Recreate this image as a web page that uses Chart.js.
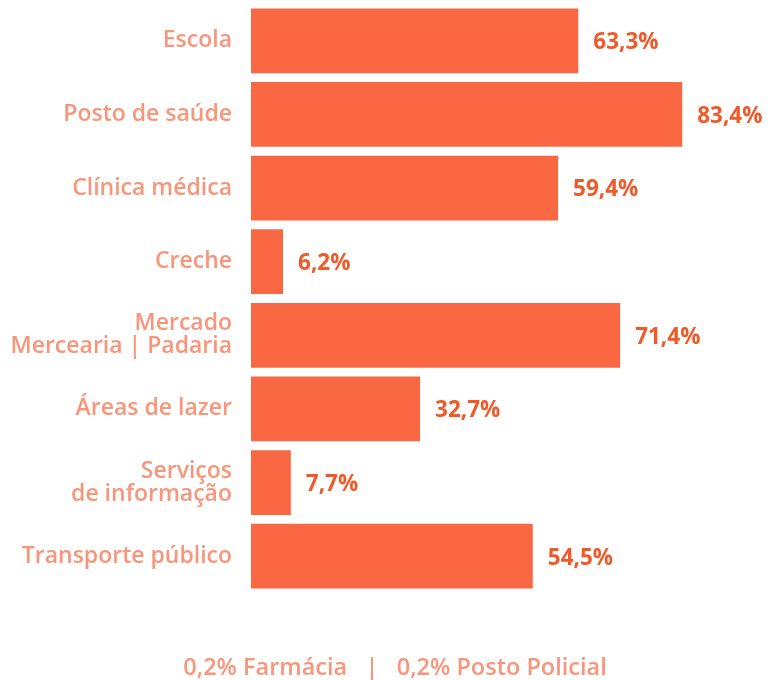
<!DOCTYPE html>
<html>
<head>
<meta charset="utf-8">
<script src="https://cdn.jsdelivr.net/npm/chart.js@4/dist/chart.umd.min.js"></script>
<style>
  html, body { margin: 0; padding: 0; background: #ffffff; }
  #wrap { width: 768px; height: 680px; position: relative; }
</style>
</head>
<body>
<div id="wrap"><canvas id="c" width="768" height="680"></canvas></div>
<script>
const categories = [
  'Escola',
  'Posto de saúde',
  'Clínica médica',
  'Creche',
  ['Mercado', 'Mercearia | Padaria'],
  'Áreas de lazer',
  ['Serviços', 'de informação'],
  'Transporte público'
];
const values = [63.3, 83.4, 59.4, 6.2, 71.4, 32.7, 7.7, 54.5];
const valueLabels = ['63,3%', '83,4%', '59,4%', '6,2%', '71,4%', '32,7%', '7,7%', '54,5%'];
const footerText = '0,2% Farmácia   |   0,2% Posto Policial';

const BAR = '#F96842';
const LABEL = '#F8957A';
const VALUE = '#F05A28';
const FONT = "'Open Sans', 'DejaVu Sans', sans-serif";

const valuePlugin = {
  id: 'valueLabels',
  afterDatasetsDraw(chart) {
    const ctx = chart.ctx;
    const meta = chart.getDatasetMeta(0);
    ctx.save();
    ctx.fillStyle = VALUE;
    ctx.font = "700 22.5px " + FONT;
    ctx.textAlign = 'left';
    ctx.textBaseline = 'middle';
    meta.data.forEach((bar, i) => {
      ctx.fillText(valueLabels[i], bar.x + 15, bar.y + 2);
    });
    ctx.restore();
  }
};

const footerPlugin = {
  id: 'footer',
  afterDraw(chart) {
    const ctx = chart.ctx;
    ctx.save();
    ctx.fillStyle = LABEL;
    ctx.font = "600 23.5px " + FONT;
    ctx.textAlign = 'center';
    ctx.textBaseline = 'middle';
    ctx.fillText(footerText, 395, 668);
    ctx.restore();
  }
};

new Chart(document.getElementById('c'), {
  type: 'bar',
  data: {
    labels: categories,
    datasets: [{
      data: values,
      backgroundColor: BAR,
      borderWidth: 0,
      barPercentage: 0.88,
      categoryPercentage: 1.0
    }]
  },
  options: {
    indexAxis: 'y',
    responsive: false,
    animation: false,
    layout: { padding: { top: 4, bottom: 87, left: 0, right: 0 } },
    plugins: { legend: { display: false }, tooltip: { enabled: false } },
    scales: {
      x: { display: false, min: 0, max: 100 },
      y: {
        afterFit(scale) {
          scale.width = 251;
          scale.paddingTop = 0;
          scale.paddingBottom = 0;
        },
        grid: { display: false, drawTicks: false },
        border: { display: false },
        ticks: {
          padding: 19,
          color: LABEL,
          font: { family: FONT, size: 23, weight: '600', lineHeight: 1.0 }
        }
      }
    }
  },
  plugins: [valuePlugin, footerPlugin]
});
</script>
</body>
</html>
